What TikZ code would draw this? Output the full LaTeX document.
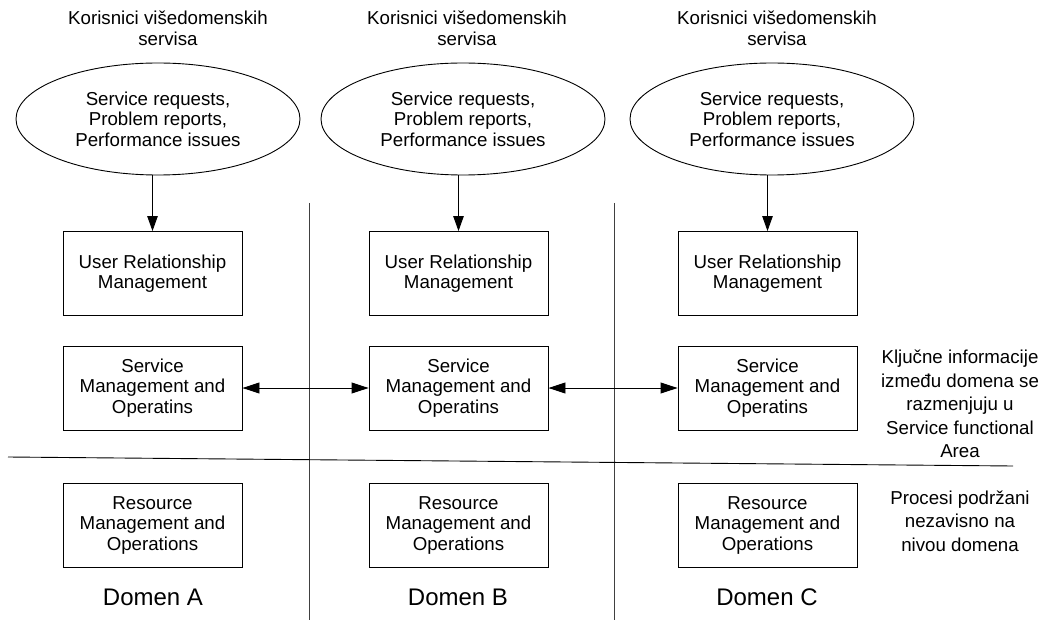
\documentclass[tikz,border=0pt]{standalone}
\usepackage{fontspec}
\setmainfont{Liberation Sans}
\usetikzlibrary{shapes.geometric,arrows.meta}
\begin{document}
\begin{tikzpicture}[x=1pt,y=-1pt,
  txt/.style={align=center,inner sep=0pt,font=\fontsize{18.7}{20.6}\selectfont},
  note/.style={align=center,inner sep=0pt,font=\fontsize{18.7}{23.5}\selectfont},
  domainlabel/.style={inner sep=0pt,font=\fontsize{24}{28}\selectfont},
  cloud/.style={ellipse,draw,line width=0.9pt,minimum width=284pt,minimum height=112pt,txt},
  box/.style={rectangle,draw,line width=0.9pt,minimum width=179pt,minimum height=84pt,txt},
  arr/.style={line width=0.9pt,-{Triangle[length=15pt,width=10.5pt]}},
  darr/.style={line width=0.9pt,{Triangle[length=17pt,width=11pt]}-{Triangle[length=17pt,width=11pt]}},
  divider/.style={line width=0.9pt,draw=black!75}
]
\useasboundingbox (0,0) rectangle (1043,620);

% users of multi-domain services
\node[txt] (ta) at (168,28) {Korisnici višedomenskih\\servisa};
\node[txt] (tb) at (467,28) {Korisnici višedomenskih\\servisa};
\node[txt] (tc) at (777,28) {Korisnici višedomenskih\\servisa};

\node[cloud] (ea) at (158,119) {Service requests,\\Problem reports,\\Performance issues};
\node[cloud] (eb) at (463,119) {Service requests,\\Problem reports,\\Performance issues};
\node[cloud] (ec) at (772,119) {Service requests,\\Problem reports,\\Performance issues};

% per-domain management layers
\node[box] (ua) at (152.5,273.5) {User Relationship\\Management};
\node[box] (ub) at (458.5,273.5) {User Relationship\\Management};
\node[box] (uc) at (767.5,273.5) {User Relationship\\Management};

\node[box] (sa) at (152.5,388) {Service\\Management and\\Operatins};
\node[box] (sb) at (458.5,388) {Service\\Management and\\Operatins};
\node[box] (sc) at (767.5,388) {Service\\Management and\\Operatins};

\node[box] (ra) at (152.5,525.5) {Resource\\Management and\\Operations};
\node[box] (rb) at (458.5,525.5) {Resource\\Management and\\Operations};
\node[box] (rc) at (767.5,525.5) {Resource\\Management and\\Operations};

\node[domainlabel] (da) at (153,597) {Domen A};
\node[domainlabel] (db) at (458,597) {Domen B};
\node[domainlabel] (dc) at (767,597) {Domen C};

% side notes
\node[note] (n1) at (960,404) {Ključne informacije\\između domena se\\razmenjuju u\\Service functional\\Area};
\node[note] (n2) at (960,521) {Procesi podržani\\nezavisno na\\nivou domena};

% domain separators
\coordinate (v1t) at (309,203);
\coordinate (v1b) at (309,620);
\coordinate (v2t) at (614,203);
\coordinate (v2b) at (614,620);
\coordinate (hl) at (8,457);
\coordinate (hr) at (1013,466);
\draw[divider] (v1t) -- (v1b);
\draw[divider] (v2t) -- (v2b);
\draw[line width=0.9pt] (hl) -- (hr);

% requests flowing down
\draw[arr] (ua.north |- ea.south) -- (ua.north);
\draw[arr] (ub.north |- eb.south) -- (ub.north);
\draw[arr] (uc.north |- ec.south) -- (uc.north);

% inter-domain exchange
\draw[darr] (sa.east) -- (sb.west);
\draw[darr] (sb.east) -- (sc.west);
\end{tikzpicture}
\end{document}
